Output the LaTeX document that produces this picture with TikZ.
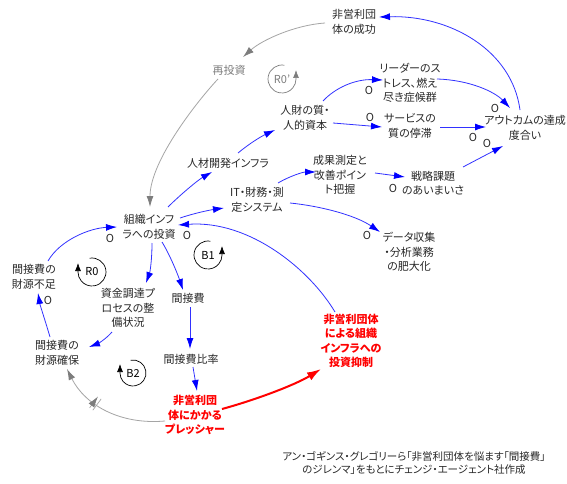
\documentclass[tikz,border=0pt]{standalone}
\usepackage{fontspec}
\setmainfont{Noto Sans CJK JP}[RawFeature={+palt}]
\usetikzlibrary{arrows.meta,calc,decorations.markings}
\definecolor{lnblue}{RGB}{50,50,255}
\definecolor{tipblue}{RGB}{0,0,255}
\definecolor{lngray}{RGB}{165,165,165}
\definecolor{tipgray}{RGB}{125,125,125}
\definecolor{txt}{RGB}{40,40,40}
\definecolor{redc}{RGB}{255,0,0}
\begin{document}
\begin{tikzpicture}[x=1pt,y=-1pt,
  var/.style={align=center, inner sep=0pt, text=txt, font=\fontsize{11}{14.5}\selectfont},
  redvar/.style={align=center, inner sep=0pt, text=redc, font=\fontsize{11}{14.5}\selectfont\bfseries},
  captext/.style={align=center, inner sep=0pt, text=txt, font=\fontsize{10.5}{13.5}\selectfont},
  bluearr/.style={draw=lnblue, line width=0.8pt, -{Latex[length=11pt,width=7pt,color=tipblue]}},
  grayarr/.style={draw=lngray, line width=0.8pt, -{Latex[length=11pt,width=7pt,color=tipgray]}},
  redarr/.style={draw=redc, line width=2pt, -{Latex[length=14pt,width=9pt]}},
  olab/.style={inner sep=0pt, text=txt, font=\fontsize{11}{11}\selectfont},
  loopline/.style={line width=0.7pt, -{Latex[length=8pt,width=6pt]}},
  looplab/.style={inner sep=0pt, font=\fontsize{11}{11}\selectfont},
]
\useasboundingbox[fill=white] (0,0) rectangle (567,484);

% variables
\node[var] (succ) at (354,22) {非営利団\\体の成功};
\node[var, text=tipgray] (reinv) at (229,70) {再投資};
\node[var] (hr) at (305,118) {人財の質・\\人的資本};
\node[var] (stress) at (410,83) {リーダーのス\\トレス、燃え\\尽き症候群};
\node[var] (serv) at (410,126) {サービスの\\質の停滞};
\node[var] (outc) at (525,128) {アウトカムの達成\\度合い};
\node[var] (meas) at (340,175) {成果測定と\\改善ポイン\\ト把握};
\node[var] (strat) at (433,183) {戦略課題\\のあいまいさ};
\node[var] (hrdev) at (228,163) {人材開発インフラ};
\node[var] (it) at (257,200) {IT・財務・測\\定システム};
\node[var] (inv) at (149,227) {組織インフ\\ラへの投資};
\node[var] (data) at (409,252) {データ収集\\・分析業務\\の肥大化};
\node[var] (short) at (34,277) {間接費の\\財源不足};
\node[var] (fund) at (128,308) {資金調達プ\\ロセスの整\\備状況};
\node[var] (ind) at (188,298) {間接費};
\node[var] (secure) at (57,353) {間接費の\\財源確保};
\node[var] (ratio) at (191,359) {間接費比率};
\node[redvar] (press) at (195,415) {非営利団\\体にかかる\\プレッシャー};
\node[redvar] (restr) at (351,341) {非営利団体\\による組織\\インフラへの\\投資抑制};
\node[captext] (caption) at (414,463) {アン・ゴギンス・グレゴリーら「非営利団体を悩ます「間接費」\\のジレンマ」をもとにチェンジ・エージェント社作成};

% gray reinvestment loop
\draw[grayarr] ($(succ)+(-29,1)$) .. controls ($(succ)+(-59,3)$) and ($(reinv)+(33,-30)$) .. ($(reinv)+(14,-13)$);
\draw[grayarr] ($(reinv)+(-11,9)$) .. controls ($(reinv)+(-29,28)$) and ($(inv)+(1,-67)$) .. ($(inv)+(1,-20)$);

% blue links
\draw[bluearr] ($(inv)+(19,-20)$) .. controls ($(inv)+(31,-32)$) and ($(hrdev)+(-30,17)$) .. ($(hrdev)+(-16,9)$);
\draw[bluearr] ($(hrdev)+(10,-10)$) .. controls ($(hrdev)+(22,-20)$) and ($(hr)+(-43,18)$) .. ($(hr)+(-30,12)$);
\draw[bluearr] ($(hr)+(18,-17)$) .. controls ($(hr)+(30,-30)$) and ($(stress)+(-55,-4)$) .. ($(stress)+(-27,-3)$);
\draw[bluearr] ($(hr)+(28,5)$) -- ($(serv)+(-28,1)$);
\draw[bluearr] ($(stress)+(27,-4)$) .. controls ($(stress)+(60,-3)$) and ($(outc)+(-30,-36)$) .. ($(outc)+(-15,-20)$);
\draw[bluearr] ($(serv)+(30,1)$) -- ($(outc)+(-39,-1)$);
\draw[bluearr] ($(strat)+(30,-16)$) -- ($(outc)+(-22,18)$);
\draw[bluearr] ($(outc)+(-5,-18)$) .. controls ($(outc)+(-13,-78)$) and ($(succ)+(96,-7)$) .. ($(succ)+(25,-5)$);
\draw[bluearr] ($(inv)+(31,-9)$) .. controls ($(inv)+(46,-14)$) and ($(it)+(-47,10)$) .. ($(it)+(-33,8)$);
\draw[bluearr] ($(it)+(21,-17)$) .. controls ($(it)+(33,-24)$) and ($(meas)+(-37,-3)$) .. ($(meas)+(-24,-3)$);
\draw[bluearr] ($(meas)+(35,-2)$) -- ($(strat)+(-28,-6)$);
\draw[bluearr] ($(it)+(33,3)$) .. controls ($(it)+(63,6)$) and ($(data)+(-54,-37)$) .. ($(data)+(-29,-20)$);
\draw[bluearr] ($(restr)+(-16,-29)$) .. controls ($(restr)+(-41,-71)$) and ($(inv)+(101,-7)$) .. ($(inv)+(29,-2)$);
\draw[bluearr] ($(short)+(14,-16)$) .. controls ($(short)+(26,-37)$) and ($(inv)+(-59,1)$) .. ($(inv)+(-32,0)$);
\draw[bluearr] ($(inv)+(3,16)$) .. controls ($(inv)+(3,33)$) and ($(fund)+(22,-36)$) .. ($(fund)+(18,-25)$);
\draw[bluearr] ($(inv)+(13,15)$) .. controls ($(inv)+(21,28)$) and ($(ind)+(-10,-23)$) .. ($(ind)+(-5,-8)$);
\draw[bluearr] ($(ind)+(2,9)$) -- ($(ratio)+(-1,-10)$);
\draw[bluearr] ($(ratio)+(2,8)$) -- ($(press)+(2,-24)$);
\draw[bluearr] ($(fund)+(-16,24)$) .. controls ($(fund)+(-23,32)$) and ($(secure)+(40,-9)$) .. ($(secure)+(32,-6)$);
\draw[bluearr] ($(secure)+(-7,-16)$) .. controls ($(secure)+(-12,-33)$) and ($(short)+(6,28)$) .. ($(short)+(4,16)$);

% delayed gray link
\draw[grayarr, postaction={decorate}, decoration={markings, mark=at position 0.62 with {\draw[lngray, line width=0.7pt] (-2,-7) -- (-2,7) (2,-7) -- (2,7);}}]
  ($(press)+(-30,6)$) .. controls ($(press)+(-75,10)$) and ($(secure)+(28,52)$) .. ($(secure)+(10,16)$);

% red link
\draw[redarr] ($(press)+(27,-6)$) .. controls ($(press)+(60,-15)$) and ($(restr)+(-56,44)$) .. ($(restr)+(-30,28)$);

% polarity labels
\node[olab] (o1) at (369,90) {O};
\node[olab] (o2) at (370,117) {O};
\node[olab] (o3) at (495,108) {O};
\node[olab] (o4) at (473,137) {O};
\node[olab] (o5) at (487,143) {O};
\node[olab] (o6) at (393,188) {O};
\node[olab] (o7) at (367,235) {O};
\node[olab] (o8) at (187,235) {O};
\node[olab] (o9) at (110,238) {O};
\node[olab] (o10) at (48,300) {O};

% loop markers
\node[looplab] (lR0) at (92,272) {R0};
\draw[loopline] ($(lR0)+(-100:14)$) arc[start angle=-100, end angle=180, radius=14] -- ++(0,-9);
\node[looplab] (lB1) at (208,255) {B1};
\draw[loopline] ($(lB1)+(-80:14)$) arc[start angle=-80, end angle=-360, radius=14] -- ++(0,-9);
\node[looplab] (lB2) at (133,373) {B2};
\draw[loopline] ($(lB2)+(-100:13)$) arc[start angle=-100, end angle=180, radius=13] -- ++(0,-9);
\node[looplab, text=tipgray] (lR0p) at (282,79) {R0’};
\draw[loopline, draw=tipgray, -{Latex[length=8pt,width=6pt,color=tipgray]}] ($(lR0p)+(-80:14)$) arc[start angle=-80, end angle=-360, radius=14] -- ++(0,-9);
\end{tikzpicture}
\end{document}
